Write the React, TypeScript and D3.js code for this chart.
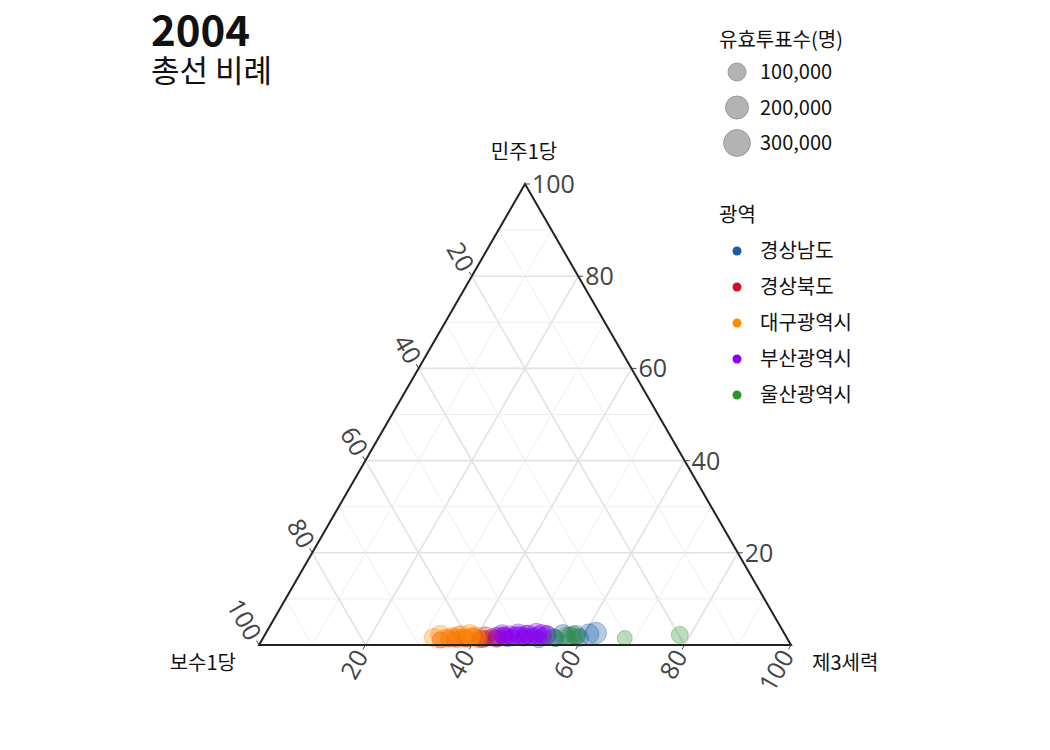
import React from "react";
import * as d3 from "d3";

// [민주1당 %, 제3세력 %, 유효투표수] — 보수1당 = 100 - 나머지
const gyeongnam: [number, number, number][] = [
  [1.3, 41.5, 85000], [1.6, 44.0, 98000], [1.4, 46.0, 76000], [2.0, 47.5, 110000],
  [1.5, 49.0, 72000], [1.8, 50.5, 95000], [1.2, 52.0, 81000], [2.1, 53.0, 120000],
  [1.7, 54.5, 88000], [2.3, 56.0, 130000], [1.9, 57.5, 105000], [2.2, 58.5, 115000],
  [1.6, 59.5, 92000], [2.4, 60.8, 140000], [2.6, 62.0, 165000], [1.5, 55.0, 78000],
  [1.8, 51.0, 90000],
];
const gyeongbuk: [number, number, number][] = [
  [1.1, 33.5, 72000], [1.4, 35.0, 80000], [1.2, 36.5, 68000], [1.6, 37.5, 90000],
  [1.3, 38.5, 75000], [1.8, 39.5, 95000], [1.5, 40.5, 70000], [2.0, 41.5, 100000],
  [1.4, 42.0, 65000], [1.7, 43.0, 85000], [1.3, 44.0, 78000], [1.9, 45.0, 92000],
  [1.5, 38.0, 82000], [1.2, 41.0, 74000], [1.6, 36.0, 88000],
];
const daegu: [number, number, number][] = [
  [1.6, 32.0, 105000], [2.2, 33.0, 125000], [1.4, 34.0, 98000], [1.8, 35.5, 115000],
  [2.0, 36.5, 120000], [1.5, 37.5, 102000], [2.3, 38.5, 135000], [1.7, 39.0, 110000],
  [1.9, 39.8, 118000], [1.3, 40.5, 95000], [2.1, 37.0, 128000], [1.6, 34.8, 108000],
];
const busan: [number, number, number][] = [
  [2.0, 43.8, 95000], [2.4, 44.5, 110000], [1.8, 45.5, 88000], [2.2, 46.0, 105000],
  [1.6, 46.8, 80000], [2.5, 47.5, 120000], [2.0, 48.0, 98000], [1.9, 48.8, 92000],
  [2.3, 49.5, 112000], [1.7, 50.0, 85000], [2.6, 50.8, 125000], [2.1, 51.5, 100000],
  [2.4, 52.0, 115000], [1.8, 52.5, 90000], [2.2, 53.0, 108000], [2.0, 45.0, 97000],
  [1.9, 47.0, 93000], [2.3, 49.0, 103000],
];
const ulsan: [number, number, number][] = [
  [1.5, 55.0, 85000], [2.0, 56.8, 95000], [2.2, 58.0, 100000], [1.7, 58.8, 88000],
  [1.5, 68.0, 58000], [2.2, 78.0, 85000],
];

const regionNames = ["경상남도", "경상북도", "대구광역시", "부산광역시", "울산광역시"];
const regionColors = ["#1a5da6", "#cc1122", "#ff8c00", "#8b00ee", "#2a962a"];
const regionData = [gyeongnam, gyeongbuk, daegu, busan, ulsan];

const sizeLegend = [100000, 200000, 300000];
const gridValues = d3.range(10, 100, 10);
const tickValues = [20, 40, 60, 80, 100];

const W = 1050;
const H = 750;

export default function App() {
  // ternary projection: x from (제3 + 민주/2), y from 민주
  const x = d3.scaleLinear().domain([0, 100]).range([259, 791]);
  const y = d3.scaleLinear().domain([0, 100]).range([645, 184]);
  const r = d3.scaleSqrt().domain([0, 300000]).range([3, 13.4]);
  const fmt = d3.format(",");

  const pt = (a: number, c: number) => [x(c + a / 2), y(a)] as [number, number];

  const grid: { p1: [number, number]; p2: [number, number]; major: boolean }[] = [];
  gridValues.forEach((v) => {
    const major = v % 20 === 0;
    // constant 민주 (horizontal)
    grid.push({ p1: pt(v, 0), p2: pt(v, 100 - v), major });
    // constant 보수
    grid.push({ p1: pt(100 - v, 0), p2: pt(0, 100 - v), major });
    // constant 제3
    grid.push({ p1: pt(100 - v, v), p2: pt(0, v), major });
  });

  const outline = [pt(100, 0), pt(0, 0), pt(0, 100)];
  const line = d3.line();

  const tickFont = { fontFamily: "'Open Sans', sans-serif", fontSize: 25, fill: "#444" };
  const dirLeft = [-0.5, -0.866];
  const dirBottom = [-0.5, 0.866];

  return (
    <svg
      width={W}
      height={H}
      style={{ position: "absolute", left: 0, top: 0, background: "#fff" }}
      fontFamily="'Noto Sans CJK KR', sans-serif"
    >
      {/* grid */}
      {grid.map((g, i) => (
        <line
          key={i}
          x1={g.p1[0]}
          y1={g.p1[1]}
          x2={g.p2[0]}
          y2={g.p2[1]}
          stroke={g.major ? "#e2e2e2" : "#eeeeee"}
          strokeWidth={g.major ? 1.6 : 1}
        />
      ))}

      {/* points */}
      {regionData.map((rows, k) => (
        <g key={k}>
          {rows.map((d, i) => {
            const [px, py] = pt(d[0], d[1]);
            return (
              <circle
                key={i}
                cx={px}
                cy={py}
                r={r(d[2])}
                fill={regionColors[k]}
                fillOpacity={0.32}
                stroke={regionColors[k]}
                strokeOpacity={0.35}
                strokeWidth={1}
              />
            );
          })}
        </g>
      ))}

      {/* outline */}
      <path d={line(outline) + "Z"} fill="none" stroke="#222" strokeWidth={2} />

      {/* 민주1당 ticks: right edge */}
      {tickValues.map((v) => {
        const [px, py] = pt(v, 100 - v);
        return (
          <g key={"a" + v}>
            <line x1={px} y1={py} x2={px + 5} y2={py} stroke="#444" strokeWidth={1} />
            <text x={px + 7} y={py} dy="0.36em" {...tickFont}>
              {v}
            </text>
          </g>
        );
      })}
      {/* 보수1당 ticks: left edge */}
      {tickValues.map((v) => {
        const [px, py] = pt(100 - v, 0);
        const tx = px + dirLeft[0] * 8;
        const ty = py + dirLeft[1] * 8;
        return (
          <g key={"b" + v}>
            <line x1={px} y1={py} x2={px + dirLeft[0] * 5} y2={py + dirLeft[1] * 5} stroke="#444" />
            <text
              x={0}
              y={0}
              dy="0.36em"
              textAnchor="end"
              transform={`translate(${tx},${ty}) rotate(60)`}
              {...tickFont}
            >
              {v}
            </text>
          </g>
        );
      })}
      {/* 제3세력 ticks: bottom edge */}
      {tickValues.map((v) => {
        const [px, py] = pt(0, v);
        const tx = px + dirBottom[0] * 8;
        const ty = py + dirBottom[1] * 8;
        return (
          <g key={"c" + v}>
            <line x1={px} y1={py} x2={px + dirBottom[0] * 5} y2={py + dirBottom[1] * 5} stroke="#444" />
            <text
              x={0}
              y={0}
              dy="0.36em"
              textAnchor="end"
              transform={`translate(${tx},${ty}) rotate(-60)`}
              {...tickFont}
            >
              {v}
            </text>
          </g>
        );
      })}

      {/* axis titles */}
      <text x={524} y={159} textAnchor="middle" fontSize={20} fill="#111">민주1당</text>
      <text x={236} y={670} textAnchor="end" fontSize={20} fill="#111">보수1당</text>
      <text x={812} y={670} textAnchor="start" fontSize={20} fill="#111">제3세력</text>

      {/* title */}
      <text x={151} y={46} fontSize={42} fontWeight="bold" fill="#111">2004</text>
      <text x={151} y={82} fontSize={31} fill="#111">총선 비례</text>

      {/* size legend */}
      <text x={719} y={47} fontSize={20} fill="#111">유효투표수(명)</text>
      {sizeLegend.map((v, i) => {
        const cy = 72 + i * 35.5;
        return (
          <g key={v}>
            <circle cx={737} cy={cy} r={r(v)} fill="#b3b3b3" stroke="#999" strokeWidth={1} />
            <text x={760} y={cy} dy="0.36em" fontSize={20} fill="#111">
              {fmt(v)}
            </text>
          </g>
        );
      })}

      {/* region legend */}
      <text x={719} y={222} fontSize={20} fill="#111">광역</text>
      {regionNames.map((name, i) => {
        const cy = 251 + i * 36;
        return (
          <g key={name}>
            <circle cx={737} cy={cy} r={4.5} fill={regionColors[i]} />
            <text x={760} y={cy} dy="0.36em" fontSize={20} fill="#111">
              {name}
            </text>
          </g>
        );
      })}
    </svg>
  );
}
